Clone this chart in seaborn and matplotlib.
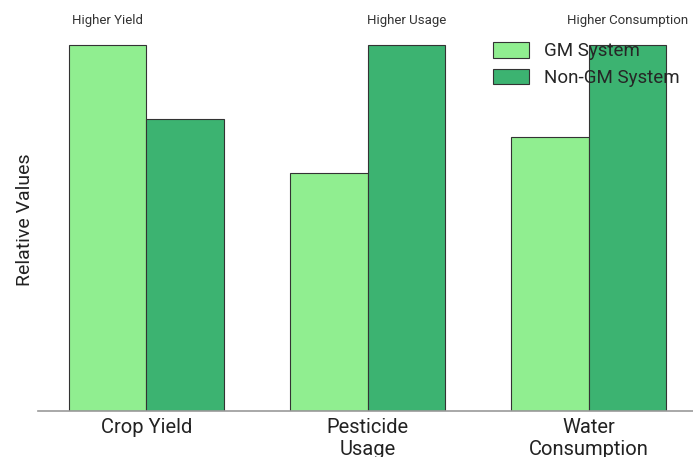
import matplotlib
matplotlib.use("Agg")
import matplotlib.pyplot as plt
import seaborn as sns
import pandas as pd

categories = ["Crop Yield", "Pesticide\nUsage", "Water\nConsumption"]
gm_values = [1.0, 0.65, 0.75]
non_gm_values = [0.8, 1.0, 1.0]
series_names = ["GM System", "Non-GM System"]
annotations = ["Higher Yield", "Higher Usage", "Higher Consumption"]
colors = ["#90EE90", "#3CB371"]

sns.set_theme(style="white")
plt.rcParams["font.family"] = ["Roboto", "DejaVu Sans"]

df = pd.DataFrame({
    "Category": categories * 2,
    "Value": gm_values + non_gm_values,
    "System": [series_names[0]] * 3 + [series_names[1]] * 3,
})

fig = plt.figure(figsize=(6.93, 4.57), dpi=100)
ax = fig.add_axes([38 / 693, 46 / 457, 658 / 693, 382 / 457])
sns.barplot(data=df, x="Category", y="Value", hue="System", palette=colors,
            saturation=1, width=0.7, gap=0, edgecolor="#333333", linewidth=0.8,
            errorbar=None, ax=ax)

# annotations above higher bar of each group
for i, txt in enumerate(annotations):
    higher = 0 if gm_values[i] >= non_gm_values[i] else 1
    xpos = i - 0.175 if higher == 0 else i + 0.175
    ax.text(xpos, 1.05, txt, ha="center", va="bottom", fontsize=9.5,
            color="#333333", clip_on=False)

ax.set_ylim(0, 1.045)
ax.set_xlim(-0.49, 2.485)
ax.set_yticks([])
ax.set_xlabel("")
ax.set_ylabel("Relative Values", fontsize=14, color="#222222", labelpad=3)
ax.tick_params(axis="x", length=0, labelsize=14.5, colors="#222222", pad=5)
for s in ["top", "right", "left"]:
    ax.spines[s].set_visible(False)
ax.spines["bottom"].set_color("#999999")
ax.spines["bottom"].set_linewidth(1.2)

leg = ax.legend(loc="upper right", bbox_to_anchor=(1.0, 1.01), frameon=False,
                fontsize=13.5, handlelength=1.9, handleheight=0.9,
                labelspacing=0.45, handletextpad=0.8)

fig.savefig("out.png", dpi=100)
